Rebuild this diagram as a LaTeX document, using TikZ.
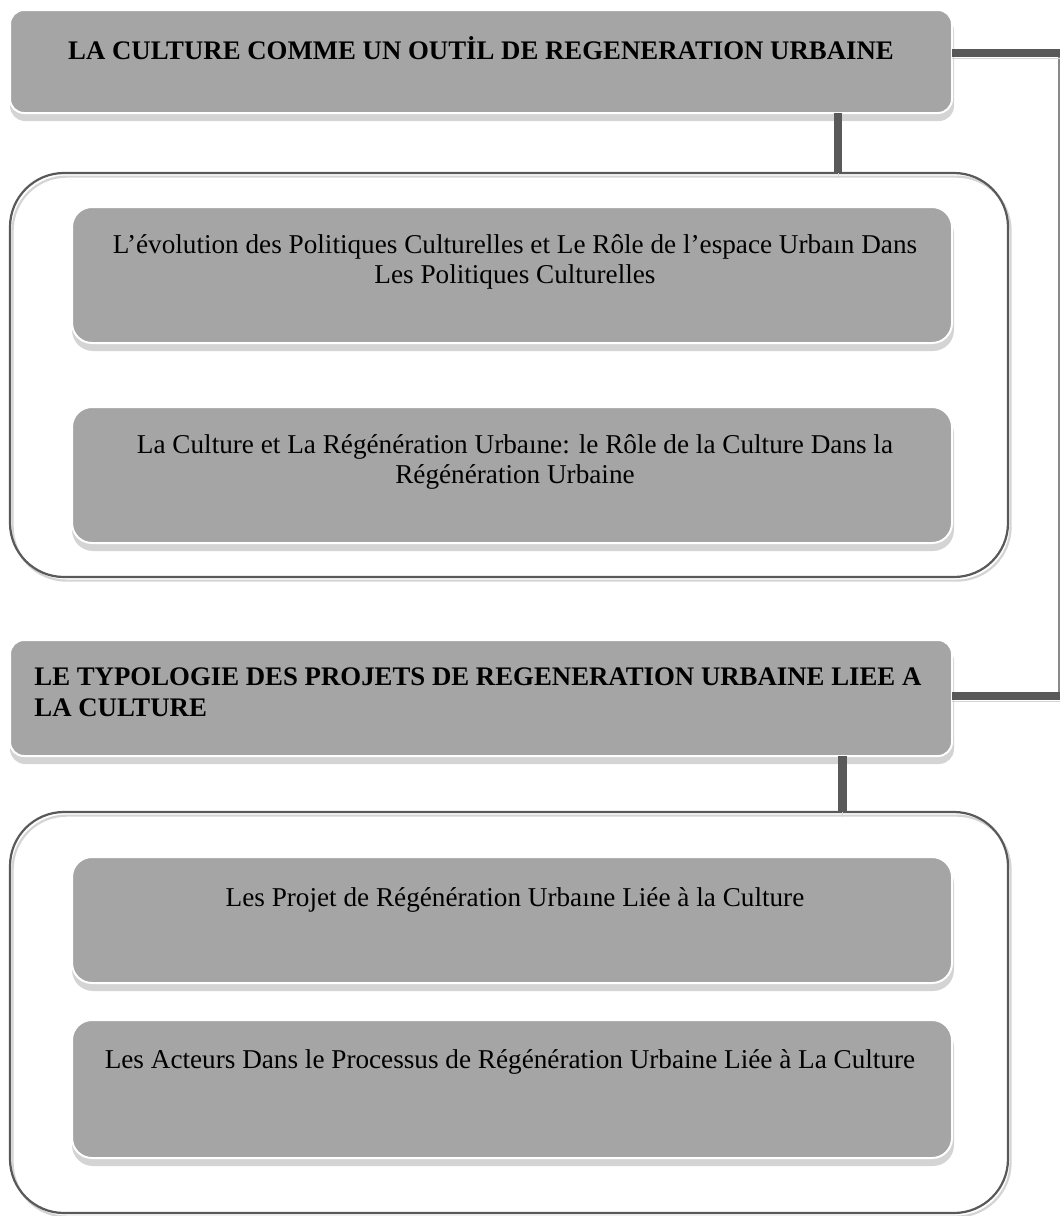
\documentclass[tikz,border=0pt]{standalone}
\usepackage{fontspec}
\setmainfont{Liberation Serif}
\usetikzlibrary{positioning}
\definecolor{boxgray}{HTML}{A5A5A5}
\definecolor{bargray}{HTML}{595959}
\definecolor{shadegray}{HTML}{D4D4D4}
\definecolor{railgray}{HTML}{8A8A8A}
\tikzset{
  hdr/.style={draw=white, line width=1pt, fill=boxgray, rounded corners=7pt,
    minimum width=471pt, inner sep=0pt, outer sep=0pt,
    preaction={fill=shadegray, draw=shadegray, transform canvas={xshift=0.5pt,yshift=-3.5pt}}},
  subbox/.style={hdr, rounded corners=10pt, minimum width=440pt},
  grp/.style={fill=white, rounded corners=27pt, minimum width=499pt,
    inner sep=0pt, outer sep=0pt, line width=1.1pt,
    postaction={draw=shadegray, transform canvas={xshift=1.3pt,yshift=-1.8pt}},
    postaction={draw=bargray}},
  bar/.style={draw=bargray, line width=4.3pt,
    preaction={draw=shadegray, transform canvas={yshift=-2.5pt}}},
  rail/.style={draw=railgray, line width=0.9pt},
  hdrtxt/.style={font=\bfseries\fontsize{13.4}{15.4}\selectfont, inner sep=0pt},
  subtxt/.style={font=\fontsize{13.6}{15}\selectfont, align=center, inner sep=0pt, anchor=north}
}
\begin{document}
\begin{tikzpicture}[x=1pt,y=-1pt]
\useasboundingbox (0,0) rectangle (530,608);
% the two white frames hold the sub-themes of each part
\node[grp, minimum height=202pt] (g1) at (254.5,187.5) {};
\node[grp, minimum height=200.5pt] (g2) at (254.5,506.25) {};
% headers of the two parts
\node[hdr, minimum height=51.5pt] (h1) at (240.5,30.75) {};
\node[hdr, minimum height=58pt] (h2) at (240.5,349) {};
% sub-themes
\node[subbox, minimum height=68pt] (s1) at (256,137.5) {};
\node[subbox, minimum height=68pt] (s2) at (256,237.5) {};
\node[subbox, minimum height=63pt] (s3) at (256,460) {};
\node[subbox, minimum height=69pt] (s4) at (256,544.5) {};
% texts
\node[hdrtxt, anchor=base] (t1) at ([yshift=-24.5pt]h1.north)
  {LA CULTURE COMME UN OUTİL DE REGENERATION URBAINE};
\node[hdrtxt, align=left, anchor=north west] (t2) at ([xshift=12pt,yshift=-13.9pt]h2.north west)
  {LE TYPOLOGIE DES PROJETS DE REGENERATION URBAINE LIEE A\\LA CULTURE};
\node[subtxt] (u1) at ([xshift=1.5pt,yshift=-13.6pt]s1.north)
  {L’évolution des Politiques Culturelles et Le Rôle de l’espace Urbaın Dans\\Les Politiques Culturelles};
\node[subtxt] (u2) at ([xshift=1.5pt,yshift=-13.6pt]s2.north)
  {La Culture et La Régénération Urbaıne: le Rôle de la Culture Dans la\\Régénération Urbaine};
\node[subtxt] (u3) at ([xshift=1.5pt,yshift=-15pt]s3.north)
  {Les Projet de Régénération Urbaıne Liée à la Culture};
\node[subtxt] (u4) at ([xshift=-1pt,yshift=-14.5pt]s4.north)
  {Les Acteurs Dans le Processus de Régénération Urbaine Liée à La Culture};
% connectors
\coordinate (rail) at (529.5,0);
\draw[bar] ([xshift=178.5pt]h1.south) -- ([xshift=178.5pt]h1.south |- g1.north);
\draw[bar] ([xshift=180.75pt]h2.south) -- ([xshift=180.75pt]h2.south |- g2.north);
\draw[rail] ([yshift=4.25pt]h1.east -| rail) -- ([yshift=1pt]h2.east -| rail);
\draw[bar] ([yshift=4.25pt]h1.east) -- ([yshift=4.25pt]h1.east -| 530,0);
\draw[bar] ([yshift=1pt]h2.east) -- ([yshift=1pt]h2.east -| 530,0);
\end{tikzpicture}
\end{document}
